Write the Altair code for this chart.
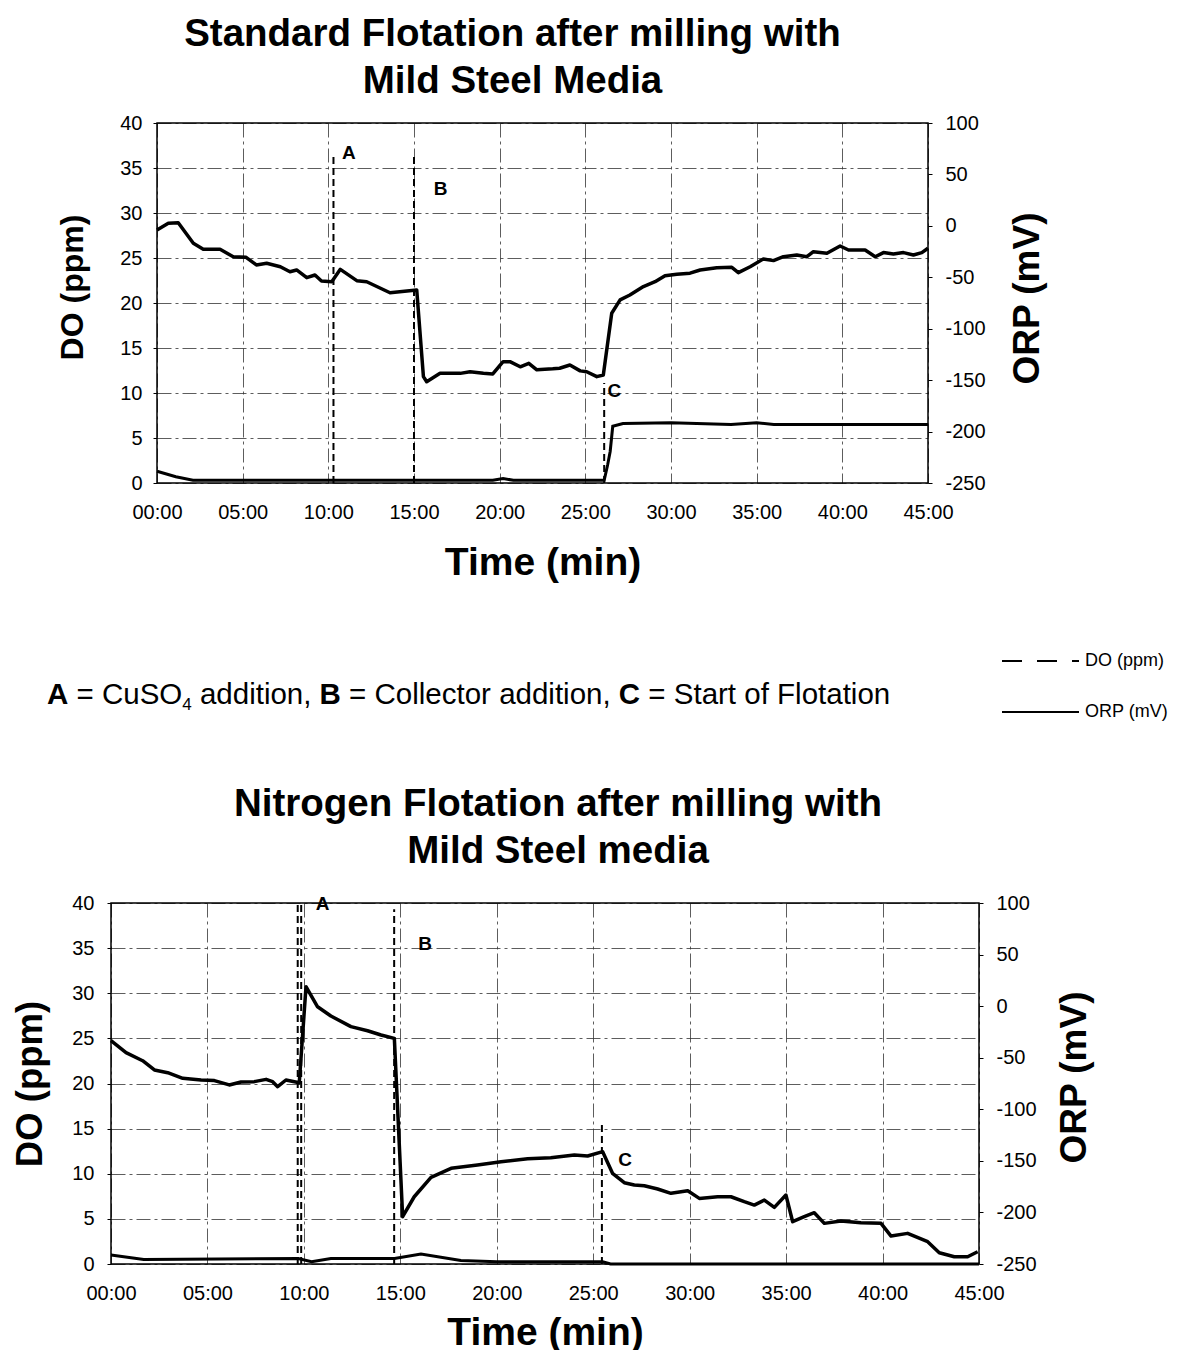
import altair as alt
import pandas as pd

FONT = "Liberation Sans"

# ---------------- data: Standard flotation (top) ----------------
top_orp_t = [0.0, 0.66, 1.24, 2.12, 2.7, 3.68, 4.45, 5.2, 5.8, 6.4, 7.2, 7.76, 8.15, 8.74, 9.22, 9.6,
             10.2, 10.7, 11.66, 12.24, 13.6, 15.16, 15.55, 15.74, 16.52, 17.7, 18.27, 19.05, 19.6, 20.2,
             20.6, 21.2, 21.7, 22.17, 23.1, 23.5, 24.1, 24.7, 25.08, 25.67, 26.05, 26.54, 27.03, 27.6,
             28.39, 29.07, 29.65, 30.34, 31.11, 31.7, 32.67, 33.55, 33.93, 34.62, 35.39, 35.98, 36.56,
             37.34, 37.93, 38.31, 39.1, 39.87, 40.36, 41.33, 41.92, 42.4, 42.98, 43.57, 44.15, 44.64, 45.0]
top_orp_mv = [-4, 2.5, 3.1, -17, -22.8, -22.8, -30, -30.6, -38, -36.4, -39.7, -44.6, -42.9, -50.4, -47.8,
              -53.6, -54.3, -42.3, -53.3, -54.3, -65, -62.4, -146.6, -151.5, -143.4, -143.4, -141.8, -143.4,
              -144, -132, -132, -137, -133.6, -140, -139, -138.4, -135.3, -141, -141.8, -146.6, -145, -85,
              -72, -67.2, -59, -54.3, -48.4, -47, -46, -42.9, -40.7, -40.3, -45.5, -39.7, -32.2, -33.8, -30,
              -28.3, -30, -25.1, -26.7, -19.6, -23.5, -23.5, -30, -26, -27.4, -26, -28.3, -26, -21.8]
top_do_t = [0, 1.1, 2.1, 19.6, 20.2, 20.8, 26.1, 26.3, 26.45, 26.6, 27.2, 30.0, 33.5, 35.0, 36.0, 45.0]
top_do_ppm = [1.3, 0.7, 0.3, 0.3, 0.5, 0.3, 0.3, 2.0, 3.5, 6.3, 6.6, 6.7, 6.5, 6.7, 6.5, 6.5]
top_event_t = [10.3, 15.0, 26.1]
top_event_top = [36.5, 36.5, 11.1]
top_label_text = ["A", "B", "C"]
top_label_t = [11.2, 16.55, 26.7]
top_label_do = [36.7, 32.7, 10.2]

# ---------------- data: Nitrogen flotation (bottom) ----------------
bot_orp_t = [0.0, 0.78, 1.64, 2.25, 2.94, 3.72, 4.67, 5.36, 6.13, 6.74, 7.43, 8.04, 8.38, 8.64, 9.07, 9.76,
             10.11, 10.71, 11.4, 12.44, 13.3, 14.0, 14.69, 15.12, 15.72, 16.59, 17.63, 19.0, 20.22, 21.6,
             22.8, 24.02, 24.71, 25.49, 26.0, 26.61, 27.13, 27.65, 28.34, 29.03, 29.9, 30.5, 31.45, 32.14,
             32.83, 33.35, 33.87, 34.39, 34.99, 35.34, 35.94, 36.46, 36.98, 37.84, 38.88, 39.92, 40.44,
             41.3, 42.34, 42.94, 43.72, 44.41, 44.93]
bot_orp_mv = [-33.5, -45.1, -52.9, -61.9, -64.5, -70, -71.6, -72.2, -76.4, -73.5, -73.2, -71, -73.2, -78.1,
              -71.6, -74.3, 18.9, -0.6, -9.6, -19.9, -23.9, -28, -31.3, -204.1, -184.8, -166, -157.2, -154,
              -150.8, -148, -147, -144.3, -145.3, -141.1, -162.1, -171.2, -173.4, -174.1, -177.3, -181.5,
              -179, -186.4, -184.8, -184.8, -189.6, -192.9, -188, -195.1, -183.1, -209, -204.1, -200.3,
              -210.6, -208.3, -210, -210.6, -222.9, -220.3, -228.4, -239.1, -243, -243, -238.1]
bot_do_t = [0, 1.7, 9.7, 10.4, 11.4, 14.7, 16.07, 18.14, 20.0, 25.49, 25.9, 45.0]
bot_do_ppm = [1.0, 0.5, 0.6, 0.25, 0.6, 0.6, 1.1, 0.4, 0.25, 0.25, 0.0, 0.0]
bot_event_t = [9.68, 9.86, 14.68, 25.45]
bot_event_top = [40, 40, 39.3, 15.4]
bot_label_text = ["A", "B", "C"]
bot_label_t = [10.97, 16.28, 26.65]
bot_label_do = [39.9, 35.5, 11.5]

time_ticks = list(range(0, 46, 5))
do_ticks = list(range(0, 41, 5))
orp_ticks = list(range(-250, 101, 50))

# note text (pieces, so A/B/C can be bold and the 4 subscript) and legend
seg_text = ["A", " = CuSO", "4", " addition, ", "B", " = Collector addition, ", "C", " = Start of Flotation"]
seg_bold = [True, False, False, False, True, False, True, False]
seg_sub = [False, False, True, False, False, False, False, False]
leg_names = ["DO (ppm)", "ORP (mV)"]

GRID = dict(grid=True, gridColor="#333333", gridDash=[14, 4, 3, 4], gridWidth=0.8, gridOpacity=1)


def time_axis(label_pad, title_pad):
    return alt.Axis(values=time_ticks,
                    labelExpr="(datum.value < 10 ? '0' : '') + datum.value + ':00'",
                    title="Time (min)", titleFont=FONT, titleFontSize=39, titleFontWeight="bold",
                    titleColor="black", labelFont=FONT, labelFontSize=20, labelColor="black",
                    labelPadding=label_pad, titlePadding=title_pad, labelFlush=False,
                    labelOverlap=False, domain=False, ticks=False, **GRID)


def do_axis(title_size, label_pad, title_pad, title_y=None):
    extra = {} if title_y is None else {"titleY": title_y}
    return alt.Axis(values=do_ticks, orient="left", title="DO (ppm)", titleFont=FONT,
                    titleFontSize=title_size, titleFontWeight="bold", titleColor="black",
                    labelFont=FONT, labelFontSize=20, labelColor="black", labelPadding=label_pad,
                    titlePadding=title_pad, tickSize=4, tickColor="black", domain=False,
                    labelOverlap=False, labelFlush=False, **GRID, **extra)


def orp_axis(title_size, label_pad, title_pad, title_y=None):
    extra = {} if title_y is None else {"titleY": title_y}
    return alt.Axis(values=orp_ticks, orient="right", title="ORP (mV)", titleFont=FONT,
                    titleFontSize=title_size, titleFontWeight="bold", titleColor="black",
                    titleAngle=270, titleBaseline="top",
                    labelExpr="datum.value < 0 ? '-' + abs(datum.value) : '' + datum.value",
                    labelFont=FONT, labelFontSize=20, labelColor="black", labelPadding=label_pad,
                    titlePadding=title_pad, tickSize=4, tickColor="black", domain=False,
                    labelOverlap=False, labelFlush=False, grid=False, **extra)


def panel(orp_t, orp_mv, do_t, do_ppm, ev_t, ev_top, lab_txt, lab_t, lab_do,
          w, h, title_lines, title_dx, title_offset, line_h, xa, ya_do, ya_orp):
    orp_df = pd.DataFrame({"t": orp_t, "ORP": orp_mv})
    do_df = pd.DataFrame({"t": do_t, "DO": do_ppm})
    ev_df = pd.DataFrame({"t": ev_t, "DO": [0] * len(ev_t), "DO_top": ev_top})
    lab_df = pd.DataFrame({"t": lab_t, "DO": lab_do, "label": lab_txt})
    xs = alt.Scale(domain=[0, 45], nice=False, zero=False)
    ys_do = alt.Scale(domain=[0, 40], nice=False)
    ys_orp = alt.Scale(domain=[-250, 100], nice=False, zero=False)
    X = alt.X("t:Q", scale=xs, axis=xa)
    Ydo = alt.Y("DO:Q", scale=ys_do, axis=ya_do)
    do_line = alt.Chart(do_df).mark_line(color="black", strokeWidth=3).encode(x=X, y=Ydo)
    ev = alt.Chart(ev_df).mark_rule(color="black", strokeWidth=2, strokeDash=[7, 4]).encode(
        x=X, y=Ydo, y2="DO_top:Q")
    lab = alt.Chart(lab_df).mark_text(font=FONT, fontSize=19, fontWeight="bold", color="black").encode(
        x=X, y=Ydo, text="label:N")
    do_layer = alt.layer(do_line, ev, lab)
    orp_line = alt.Chart(orp_df).mark_line(color="black", strokeWidth=3.5, strokeJoin="round").encode(
        x=X, y=alt.Y("ORP:Q", scale=ys_orp, axis=ya_orp))
    frame = alt.Chart(pd.DataFrame({"f": [0]})).mark_rect(
        fillOpacity=0, stroke="black", strokeWidth=1.5).encode(
        x=alt.value(0), x2=alt.value("width"), y=alt.value(0), y2=alt.value("height"))
    return alt.layer(do_layer, orp_line, frame).resolve_scale(y="independent").properties(
        width=w, height=h,
        title=alt.Title(text=title_lines, font=FONT, fontSize=38.5, fontWeight="bold", color="black",
                        anchor="middle", frame="group", dx=title_dx, offset=title_offset,
                        lineHeight=line_h))


def spacer(w):
    # an empty view (no items) that only reserves horizontal room
    return alt.Chart(pd.DataFrame({"s": [0]})).transform_filter("false").mark_point().properties(
        width=w, height=1)


top = panel(top_orp_t, top_orp_mv, top_do_t, top_do_ppm, top_event_t, top_event_top,
            top_label_text, top_label_t, top_label_do, 771, 360,
            ["Standard Flotation after milling with", "Mild Steel Media"], -30, 12, 47,
            time_axis(19, 21), do_axis(32, 11, 30, 164), orp_axis(37, 13, 24, 175))

bot = panel(bot_orp_t, bot_orp_mv, bot_do_t, bot_do_ppm, bot_event_t, bot_event_top,
            bot_label_text, bot_label_t, bot_label_do, 868, 361,
            ["Nitrogen Flotation after milling with", "Mild Steel media"], 13, 22, 47,
            time_axis(19, 10), do_axis(36.5, 13, 22), orp_axis(37, 13, 20, 174))

# ---------------- middle note + legend ----------------
W_REG = {' ': 278, '=': 584, ',': 278, 'C': 722, 'u': 556, 'S': 667, 'O': 778, 'a': 556,
         'd': 556, 'i': 222, 't': 278, 'o': 556, 'n': 556, 'l': 222, 'e': 556, 'c': 500, 'r': 333,
         'f': 278, 'F': 611, '4': 556}
W_BOLD = {'A': 722, 'B': 722, 'C': 722}
MID_TOP = 582          # page y of the middle panel's top (layout constant)
MID_FS, SUB_FS = 29.5, 17
note_x0, note_base = 39, 704 - MID_TOP


def text_w(s, table, fs):
    return sum(table.get(ch, 556) for ch in s) * fs / 1000.0


rows = []
cx = note_x0
for txt, b, sub in zip(seg_text, seg_bold, seg_sub):
    fs = SUB_FS if sub else MID_FS
    table = W_BOLD if b else W_REG
    lead = txt[:len(txt) - len(txt.lstrip(" "))]
    shown = txt.strip(" ")
    rows.append({"x": cx + text_w(lead, table, fs), "y": note_base + (6 if sub else 0),
                 "txt": shown, "fs": fs, "bold": b})
    cx += text_w(txt, table, fs)
note_df = pd.DataFrame(rows)

note_reg = alt.Chart(note_df).transform_filter("!datum.bold").mark_text(
    font=FONT, align="left", baseline="alphabetic", color="black").encode(
    x=alt.X("x:Q", scale=None), y=alt.Y("y:Q", scale=None), text="txt:N",
    size=alt.Size("fs:Q", scale=None, legend=None))
note_bold = alt.Chart(note_df).transform_filter("datum.bold").mark_text(
    font=FONT, fontWeight="bold", align="left", baseline="alphabetic", color="black").encode(
    x=alt.X("x:Q", scale=None), y=alt.Y("y:Q", scale=None), text="txt:N",
    size=alt.Size("fs:Q", scale=None, legend=None))

leg_df = pd.DataFrame({"name": leg_names, "x0": [994, 994], "x1": [1071, 1071],
                       "tx": [1077, 1077], "y": [661 - MID_TOP, 712 - MID_TOP]})
leg_rule = alt.Chart(leg_df).mark_rule(color="black", strokeWidth=2).encode(
    x=alt.X("x0:Q", scale=None), x2="x1:Q", y=alt.Y("y:Q", scale=None),
    strokeDash=alt.StrokeDash("name:N", scale=alt.Scale(domain=leg_names, range=[[20, 15], [1, 0]]),
                              legend=None))
leg_text = alt.Chart(leg_df).mark_text(font=FONT, fontSize=18, align="left", baseline="middle",
                                       color="black").encode(
    x=alt.X("tx:Q", scale=None), y=alt.Y("y:Q", scale=None), text="name:N")

mid = alt.layer(note_reg, note_bold, leg_rule, leg_text).properties(width=1160, height=202)

chart = alt.vconcat(
    alt.hconcat(spacer(48), top, spacing=0),
    mid,
    alt.hconcat(spacer(4), bot, spacing=0),
    spacing=0,
).properties(
    padding={"left": 0, "top": 6, "right": 0, "bottom": 0}
).configure(
    background="white", font=FONT,
    view=alt.ViewConfig(stroke="transparent", strokeWidth=0),
)

chart.save("out.html", embed_options={"renderer": "svg", "actions": False})
